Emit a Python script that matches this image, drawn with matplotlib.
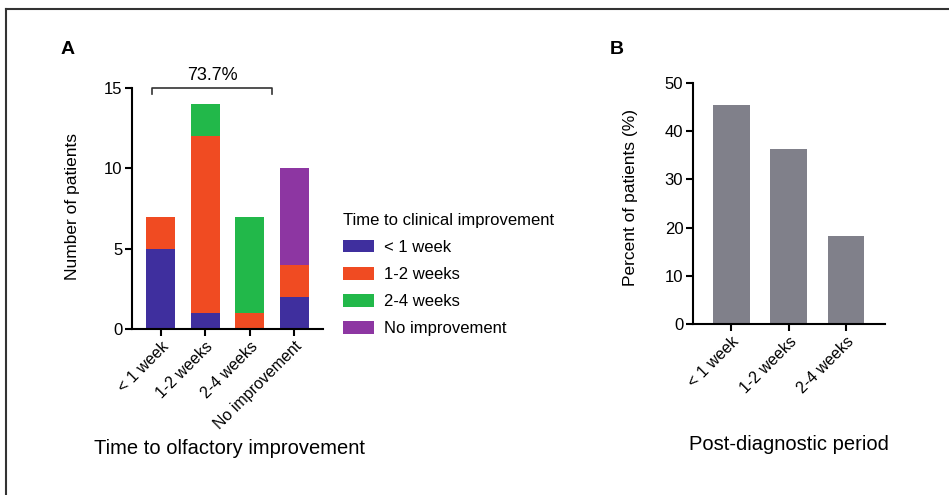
import numpy as np
import matplotlib
matplotlib.use("Agg")
import matplotlib.pyplot as plt
from matplotlib.lines import Line2D

plt.rcParams['font.family'] = ['Liberation Sans', 'DejaVu Sans']

# panel A: stacked counts per olfactory-improvement group
groups_a = ["< 1 week", "1-2 weeks", "2-4 weeks", "No improvement"]
series_names = ["< 1 week", "1-2 weeks", "2-4 weeks", "No improvement"]
under_1w = [5, 1, 0, 2]
w1_2 = [2, 11, 1, 2]
w2_4 = [0, 2, 6, 0]
no_imp = [0, 0, 0, 6]
series_colors = ["#3f2f9e", "#f04b22", "#22b84a", "#8d36a2"]
bracket_text = "73.7%"

# panel B
groups_b = ["< 1 week", "1-2 weeks", "2-4 weeks"]
percent_b = [45.45, 36.36, 18.18]

W, H = 949, 495
fig = plt.figure(figsize=(W / 100, H / 100), dpi=100)

def box(l, t, r, b):
    return [l / W, 1 - b / H, (r - l) / W, (b - t) / H]

def style(ax):
    for s in ["top", "right"]:
        ax.spines[s].set_visible(False)
    for s in ["left", "bottom"]:
        ax.spines[s].set_linewidth(1.5)
    ax.tick_params(width=1.5, length=5, labelsize=12, pad=2)
    for lab in ax.get_xticklabels():
        lab.set_fontsize(11.5)

# ---- panel A
ax = fig.add_axes(box(132, 88, 323, 329))
x = np.arange(len(groups_a))
bottom = np.zeros(len(groups_a))
handles = []
for vals, name, col in zip([under_1w, w1_2, w2_4, no_imp], series_names, series_colors):
    b = ax.bar(x, vals, width=0.65, bottom=bottom, color=col, label=name)
    handles.append(b)
    bottom += np.array(vals)
ax.set_xlim(-0.65, 3.65)
ax.set_ylim(0, 15)
ax.set_yticks([0, 5, 10, 15])
ax.set_xticks(x)
ax.set_xticklabels(groups_a, rotation=45, ha="right", rotation_mode="anchor")
style(ax)

# bracket
ax.plot([-0.2, -0.2, 2.5, 2.5], [14.6, 15, 15, 14.6], color="#333333", lw=1.2, clip_on=False)
ax.text(1.15, 15.25, bracket_text, ha="center", va="bottom", fontsize=13)

fig.legend(handles=handles, labels=series_names, loc="upper left",
           bbox_to_anchor=(336 / W, 1 - 206 / H), frameon=False,
           title="Time to clinical improvement", title_fontsize=12,
           fontsize=12, alignment="left", handlelength=1.9, handleheight=0.8,
           labelspacing=0.72, handletextpad=0.6, borderaxespad=0)

fig.text(72 / W, 1 - 206 / H, "Number of patients", rotation=90, ha="center", va="center", fontsize=12.5)
fig.text(230 / W, 1 - 449 / H, "Time to olfactory improvement", ha="center", va="center", fontsize=14.5)
fig.text(68 / W, 1 - 50 / H, "A", ha="center", va="center", fontsize=14, fontweight="bold")

# ---- panel B
bx = fig.add_axes(box(693, 83, 885, 324))
xb = np.arange(len(groups_b))
bx.bar(xb, percent_b, width=0.64, color="#80808a")
bx.set_xlim(-0.67, 2.68)
bx.set_ylim(0, 50)
bx.set_yticks([0, 10, 20, 30, 40, 50])
bx.set_xticks(xb)
bx.set_xticklabels(groups_b, rotation=45, ha="right", rotation_mode="anchor")
style(bx)

fig.text(630 / W, 1 - 197 / H, "Percent of patients (%)", rotation=90, ha="center", va="center", fontsize=12.5)
fig.text(789 / W, 1 - 445 / H, "Post-diagnostic period", ha="center", va="center", fontsize=14.5)
fig.text(617 / W, 1 - 50 / H, "B", ha="center", va="center", fontsize=14, fontweight="bold")

# frame lines (top and left only)
fig.add_artist(Line2D([6 / W, 1], [1 - 9 / H, 1 - 9 / H], color="#333333", lw=1.5))
fig.add_artist(Line2D([6 / W, 6 / W], [0, 1 - 9 / H], color="#333333", lw=1.5))

fig.savefig("out.png", dpi=100)
